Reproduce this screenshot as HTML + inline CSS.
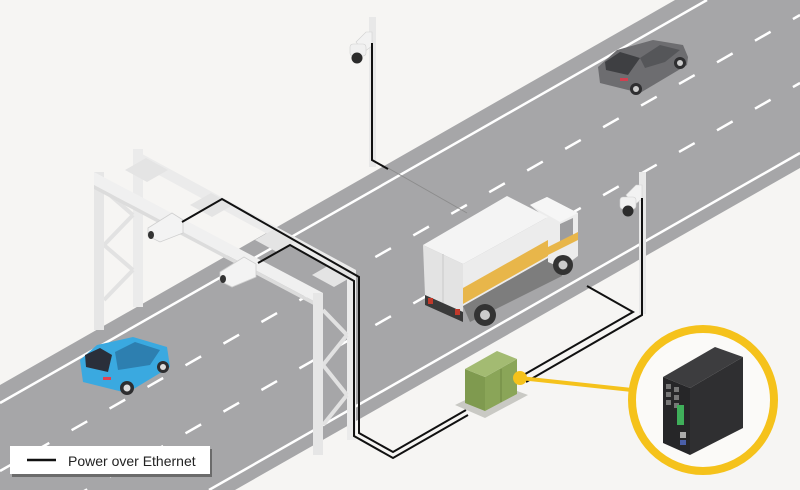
<!DOCTYPE html>
<html><head><meta charset="utf-8"><style>
html,body{margin:0;padding:0;background:#f6f5f3;width:800px;height:490px;overflow:hidden;}
svg{display:block;}
</style></head><body>
<svg width="800" height="490" viewBox="0 0 800 490" xmlns="http://www.w3.org/2000/svg">
<rect width="800" height="490" fill="#f6f5f3"/>
<!-- road -->
<polygon points="0,385 675,0 800,0 800,168 235,490 0,490" fill="#a6a6a8"/>
<line x1="0" y1="403" x2="707" y2="0" stroke="#fff" stroke-width="2.5"/>
<line x1="800" y1="153" x2="209" y2="490" stroke="#fff" stroke-width="2.5"/>
<line x1="0" y1="471" x2="800" y2="15" stroke="#fff" stroke-width="2.5" stroke-dasharray="18 25.7" stroke-dashoffset="5"/>
<line x1="0" y1="539" x2="800" y2="83" stroke="#fff" stroke-width="2.5" stroke-dasharray="18 25.7" stroke-dashoffset="5"/>
<line x1="388" y1="168" x2="467" y2="213" stroke="#8c8c8c" stroke-width="1"/>

<!-- gantry -->
<g fill="#ebebeb" stroke="none">
<rect x="133" y="149" width="10" height="158"/>
<path d="M104,190 L133,215 M133,215 L104,245 M104,245 L133,270 M133,270 L104,300" stroke="#e2e2e2" stroke-width="4" fill="none"/>
<rect x="94" y="172" width="10" height="158" fill="#e6e6e6"/>
<rect x="347" y="270" width="9" height="170"/>
<path d="M323,310 L347,335 M347,335 L323,365 M323,365 L347,395 M347,395 L323,425" stroke="#e2e2e2" stroke-width="4" fill="none"/>
<polygon points="133,149 356,270 356,282 133,161"/>
<polygon points="125,170 146,158 168,170 147,182" fill="#e4e4e4"/>
<polygon points="190,205 211,193 233,205 212,217" fill="#e4e4e4"/>
<polygon points="255,240 276,228 298,240 277,252" fill="#e4e4e4"/>
<polygon points="312,275 333,263 355,275 334,287" fill="#e4e4e4"/>
<polygon points="94,172 323,293 323,306 94,185" fill="#f0f0f0"/>
<polygon points="94,185 323,306 323,310 94,189" fill="#dcdcdc"/>
<rect x="313" y="293" width="10" height="162" fill="#e6e6e6"/>
</g>
<polygon points="148,228 172,213 183,220 183,233 160,242 148,236" fill="#f3f3f3" stroke="#cfcfcf" stroke-width="0.8"/>
<ellipse cx="151" cy="235" rx="3" ry="4" fill="#333"/>
<polygon points="220,272 244,257 256,264 256,277 232,287 220,281" fill="#f3f3f3" stroke="#cfcfcf" stroke-width="0.8"/>
<ellipse cx="223" cy="279" rx="3" ry="4" fill="#333"/>

<!-- gray car -->
<g>
<polygon points="598,67 617,50 653,40 683,45 688,57 687,65 640,93 600,83" fill="#6d6d70"/>
<polygon points="605,62 620,52 640,58 628,75 606,70" fill="#3e3f42"/>
<polygon points="640,58 660,45 680,50 665,62 645,68" fill="#555659"/>
<circle cx="636" cy="89" r="6" fill="#2e2e30"/><circle cx="636" cy="89" r="3" fill="#ccc"/>
<circle cx="680" cy="63" r="6" fill="#2e2e30"/><circle cx="680" cy="63" r="3" fill="#ccc"/>
<rect x="620" y="78" width="8" height="3" fill="#d04050"/>
</g>
<!-- blue car -->
<g>
<polygon points="80,360 97,345 133,337 167,347 170,367 127,393 83,382" fill="#3aa9e0"/>
<polygon points="85,355 100,348 112,355 108,372 86,367" fill="#2a2f3a"/>
<polygon points="115,352 135,342 160,350 150,365 118,370" fill="#2d7fb0"/>
<circle cx="127" cy="388" r="7" fill="#2e2e30"/><circle cx="127" cy="388" r="3.5" fill="#ddd"/>
<circle cx="163" cy="367" r="6" fill="#2e2e30"/><circle cx="163" cy="367" r="3" fill="#ddd"/>
<rect x="103" y="377" width="8" height="3" fill="#e04050"/>
</g>

<!-- truck -->
<g>
<polygon points="463,306 548,258 562,268 562,276 470,322" fill="#7d7d7d"/>
<polygon points="548,220 530,205 547,197 578,213 578,256 562,268 548,262" fill="#ececec"/>
<polygon points="530,205 547,197 578,213 560,222" fill="#f6f6f6"/>
<polygon points="560,224 573,218 573,238 560,244" fill="#9d9d9f"/>
<polygon points="548,247 578,232 578,240 548,255" fill="#e8b64a"/>
<polygon points="423,245 507,196 548,217 463,264" fill="#f4f4f4"/>
<polygon points="423,245 463,264 463,312 425,295" fill="#e3e3e3"/>
<line x1="443" y1="254" x2="443" y2="304" stroke="#c8c8c8" stroke-width="1"/>
<polygon points="463,264 548,217 548,258 463,306" fill="#ececec"/>
<polygon points="463,288 548,240 548,256 463,304" fill="#e8b64a"/>
<polygon points="425,295 463,312 463,322 425,305" fill="#3a3a3a"/>
<rect x="428" y="298" width="5" height="6" fill="#c0392b"/>
<rect x="455" y="309" width="5" height="6" fill="#c0392b"/>
<circle cx="485" cy="315" r="11" fill="#333"/><circle cx="485" cy="315" r="5" fill="#ccc"/>
<circle cx="563" cy="265" r="10" fill="#333"/><circle cx="563" cy="265" r="4.5" fill="#ccc"/>
</g>

<!-- PTZ 1 -->
<rect x="369" y="17" width="7" height="150" fill="#e8e8e8"/>
<polygon points="356,42 366,32 372,32 372,46 364,52" fill="#f2f2f2" stroke="#d0d0d0" stroke-width="0.6"/>
<rect x="350" y="44" width="16" height="12" rx="3" fill="#f0f0f0" stroke="#d0d0d0" stroke-width="0.6"/>
<circle cx="357" cy="58" r="5.5" fill="#2b2b2b"/>
<!-- PTZ 2 -->
<rect x="639" y="172" width="7" height="142" fill="#e8e8e8"/>
<polygon points="626,195 636,185 642,185 642,199 634,205" fill="#f2f2f2" stroke="#d0d0d0" stroke-width="0.6"/>
<rect x="620" y="197" width="16" height="12" rx="3" fill="#f0f0f0" stroke="#d0d0d0" stroke-width="0.6"/>
<circle cx="628" cy="211" r="5.5" fill="#2b2b2b"/>

<!-- cables -->
<g fill="none" stroke="#111" stroke-width="2" stroke-linejoin="miter">
<polyline points="372,43 372,160 388,169"/>
<polyline points="182,222 222,199 359,277 359,433 393,452 466,410"/>
<polyline points="258,263 290,245 354,281 354,436 393,458 468,415"/>
<polyline points="587,286 633,312 520,377"/>
<polyline points="642,198 642,315 526,382"/>
</g>

<!-- cabinet -->
<polygon points="455,405 485,418 528,395 498,384" fill="#c9c9c4"/>
<polygon points="465,369 485,377 485,411 465,403" fill="#7f9a4f"/>
<polygon points="485,377 517,359 517,394 485,411" fill="#8aa558"/>
<polygon points="465,369 497,351 517,359 485,377" fill="#a3bb72"/>
<line x1="501" y1="369" x2="501" y2="402" stroke="#6d8642" stroke-width="1"/>

<line x1="520" y1="378" x2="632" y2="390" stroke="#f5c21b" stroke-width="4"/>
<circle cx="520" cy="378" r="7" fill="#f5c21b"/>
<circle cx="703" cy="400" r="71" fill="#fbfaf8" stroke="#f5c21b" stroke-width="8"/>

<!-- switch -->
<polygon points="663,377 715,347 743,357 690,388" fill="#3d3d3f"/>
<polygon points="690,388 743,357 743,428 690,455" fill="#2f2f31"/>
<polygon points="663,377 690,388 690,455 663,443" fill="#262628"/>
<g fill="#777">
<rect x="666" y="384" width="5" height="5"/><rect x="674" y="387" width="5" height="5"/>
<rect x="666" y="392" width="5" height="5"/><rect x="674" y="395" width="5" height="5"/>
<rect x="666" y="400" width="5" height="5"/><rect x="674" y="403" width="5" height="5"/>
</g>
<rect x="677" y="405" width="7" height="20" fill="#3fae5a"/>
<rect x="680" y="432" width="6" height="6" fill="#aaa"/>
<rect x="680" y="440" width="6" height="5" fill="#4a5fa8"/>

<!-- legend -->
<rect x="12" y="449" width="200" height="28" fill="#6b6b6b"/>
<rect x="10" y="446" width="200" height="28" fill="#ffffff"/>
<line x1="27" y1="460" x2="56" y2="460" stroke="#111" stroke-width="2.5"/>
<text x="68" y="466" font-family="Liberation Sans, sans-serif" font-size="14" fill="#222">Power over Ethernet</text>
</svg>
</body></html>
